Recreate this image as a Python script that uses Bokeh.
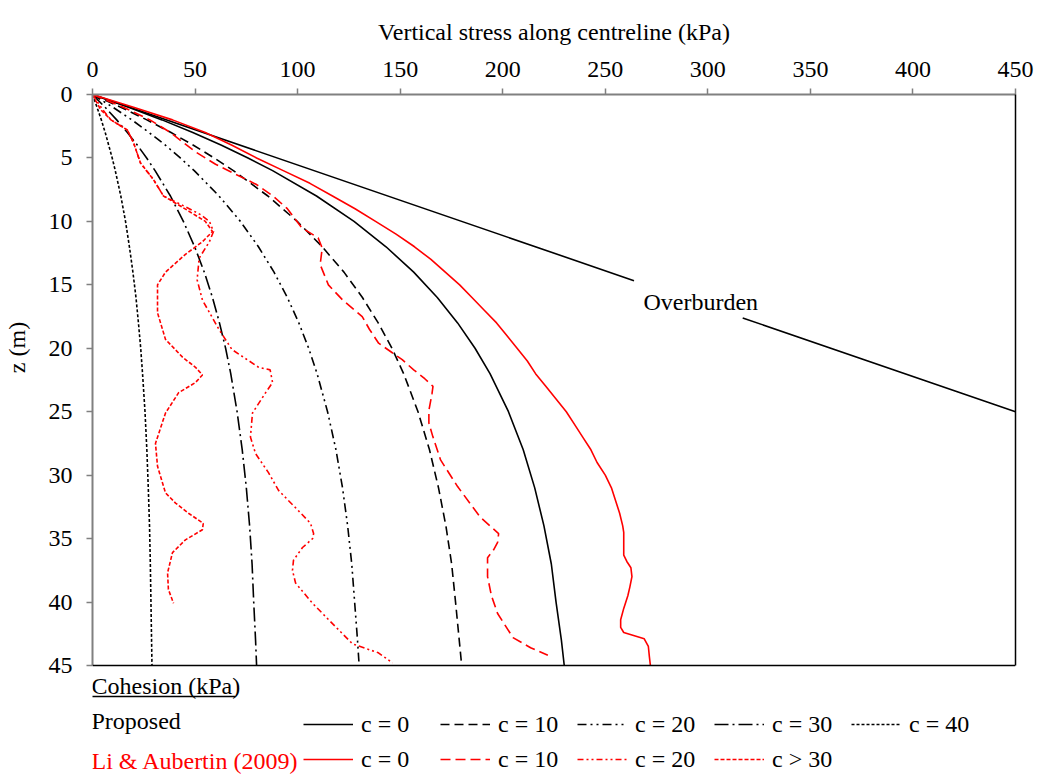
from bokeh.plotting import figure
from bokeh.models import Range1d, FixedTicker, LinearAxis, Label, Legend, LegendItem, Arrow, Span
from bokeh.embed import file_html
from bokeh.resources import INLINE

FONT = "Liberation Serif"

x_ticks = [0, 50, 100, 150, 200, 250, 300, 350, 400, 450]
z_ticks = [0, 5, 10, 15, 20, 25, 30, 35, 40, 45]
Z_MAX = 45

# Proposed solution (depth z in m, vertical stress in kPa)
prop_z = [0, 1, 2, 3, 4, 5, 6, 8, 10, 12, 14, 16, 18, 20, 22, 25, 28, 31, 34, 37, 40, 43, 45]
prop_c0 = [0, 17.6, 33.9, 48.9, 62.9, 75.8, 87.8, 109.2, 127.5, 143.1, 156.6, 168.1, 178.0,
           186.5, 193.8, 202.8, 210.0, 215.6, 220.1, 223.7, 226.0, 228.6, 230.0]
prop_c10 = [0, 13.8, 26.5, 38.3, 49.2, 59.3, 68.7, 85.5, 99.8, 112.0, 122.6, 131.6, 139.3,
            146.0, 151.7, 158.7, 164.3, 168.7, 172.3, 175.1, 177.0, 178.8, 180.0]
prop_c20 = [0, 9.9, 19.2, 27.6, 35.6, 42.8, 49.6, 61.7, 72.1, 80.9, 88.5, 95.0, 100.6,
            105.4, 109.5, 114.6, 118.7, 121.9, 124.4, 126.4, 127.8, 129.2, 130.0]
prop_c30 = [0, 6.1, 11.8, 17.0, 21.9, 26.4, 30.5, 38.0, 44.3, 49.8, 54.5, 58.5, 61.9,
            64.9, 67.4, 70.5, 73.0, 75.0, 76.6, 77.8, 78.6, 79.5, 80.0]
prop_c40 = [0, 2.2, 4.3, 6.2, 7.9, 9.6, 11.1, 13.8, 16.1, 18.0, 19.7, 21.2, 22.4,
            23.5, 24.4, 25.6, 26.5, 27.2, 27.8, 28.2, 28.5, 28.8, 29.0]

# Li & Aubertin (2009)
li_c0_z = [0, 1, 2, 3, 4, 5, 6, 7, 8, 9, 10, 11, 12, 13, 14, 15, 16, 17, 18, 19, 20, 21, 22, 23,
           24, 25, 26, 27, 28, 29, 30, 31, 32, 33, 34, 34.5, 35.5, 36.3, 36.8, 37.3, 38, 38.8,
           39.5, 40.5, 41.4, 42.0, 42.4, 42.6, 42.9, 43.5, 44.3, 45]
li_c0_s = [0, 20, 39, 55, 68, 80, 93, 106, 117, 128, 138, 148, 157, 165, 172, 179, 185, 191,
           197, 202, 207, 212, 216, 221, 226, 231, 235, 239, 243, 246, 250, 253, 255, 257, 258.5,
           259, 259, 259, 260.5, 262.5, 263, 262, 261, 259, 257.5, 257.5, 259, 263, 269, 271,
           271.5, 272]
li_c10_z = [0, 1, 2, 3, 4.5, 5.5, 6.3, 7.1, 8, 9, 10.5, 11.3, 12.1, 13.4, 15, 16.2, 17.5, 18.5,
            19.6, 20.9, 21.7, 22.4, 23, 23.6, 24.9, 25.9, 27, 28.8, 30.9, 33.3, 34.6, 35.3, 35.9,
            36.5, 38, 39.5, 40.9, 42.8, 43.6, 44.2]
li_c10_s = [0, 15, 28, 38, 50, 60, 70, 80, 88, 95, 102, 110, 112, 111, 115, 122, 131.5, 135,
            139.5, 151, 156.6, 162, 166, 165.5, 164, 164, 166, 169.7, 178, 189, 198, 197.5, 195.5,
            192.6, 192.6, 194.5, 197.5, 205, 213.6, 222]
li_c20_z = [0, 1.2, 2, 2.8, 3.8, 5.4, 6.7, 8, 8.9, 9.5, 10, 10.8, 11.6, 12.9, 14.6, 16.2, 18.5,
            20.1, 21.5, 21.7, 22.7, 23.5, 25.1, 27, 28.3, 29.8, 31.2, 32.8, 33.8, 34.6, 35, 35.7,
            36.7, 37.5, 38.5, 40.1, 41.7, 43.3, 44, 44.8]
li_c20_s = [0, 5, 9, 17, 20, 23.4, 29.7, 34.6, 46, 53, 57, 59, 57, 52, 51, 53.6, 61.6, 68, 81,
            86.6, 87.8, 84.4, 78, 77, 79.5, 85.8, 90.7, 100.4, 106.3, 107.8, 107.3, 102.4, 98,
            97.5, 99, 107.3, 117, 126.8, 139.4, 146.3]
li_c30_z = [0, 1.2, 2, 2.8, 3.8, 5.4, 6.7, 8, 8.9, 9.5, 10, 10.8, 11.6, 12.6, 14, 15, 17.2, 19.3,
            20.7, 21.5, 22.1, 22.7, 23.5, 25.1, 27.5, 29.3, 31.4, 32.2, 33, 33.8, 34.3, 35.1, 36.1,
            37.7, 39, 40.1]
li_c30_s = [0, 4, 9, 17, 20, 23.4, 29.7, 34.6, 44, 50, 55, 58.5, 53.6, 45.3, 35.6, 31.7, 31.7,
            35.6, 43.9, 50.2, 53.6, 50.2, 42, 35.6, 30.7, 31.7, 35.6, 40.5, 46.8, 54, 53.6, 45.3,
            39, 36.6, 37, 39.5]

# Overburden line (gap where the label sits)
ob_s = [0, 264, float("nan"), 317, 450]
ob_z = [0, 14.67, float("nan"), 17.61, 25]

prop_labels = ["c = 0", "c = 10", "c = 20", "c = 30", "c = 40"]
li_labels = ["c = 0", "c = 10", "c = 20", "c > 30"]

RED = "#ff0000"
LW = 1.6
prop_styles = [None, "9 5", "9 4 2 4 2 4", "14 4 2 4", "3 2"]
li_styles = [None, "10 5", "6 3 2 3 2 3", "4 2"]

# frame extends below z = 45 to hold the legend block (axis lines bounded to 0..45)
p = figure(width=1039, height=774, x_range=Range1d(0, 450), y_range=Range1d(53.59, 0),
           x_axis_location="above", y_axis_location="left",
           output_backend="svg", toolbar_location=None,
           min_border_left=92, min_border_right=24, min_border_top=94, min_border_bottom=0)
p.grid.visible = False
p.outline_line_color = None
p.background_fill_color = "white"
p.border_fill_color = "white"

for ax in [p.xaxis[0], p.yaxis[0]]:
    ax.axis_line_color = "#808080"
    ax.axis_line_width = 2
    ax.major_tick_line_color = "#808080"
    ax.major_tick_line_width = 1.5
    ax.minor_tick_line_color = None
    ax.major_tick_out = 6
    ax.major_tick_in = 0
    ax.major_label_text_font = FONT
    ax.major_label_text_font_size = "24px"
    ax.major_label_text_color = "black"
    ax.axis_label_text_font = FONT
    ax.axis_label_text_font_size = "24px"
    ax.axis_label_text_font_style = "normal"
    ax.axis_label_text_color = "black"

p.xaxis[0].ticker = FixedTicker(ticks=x_ticks)
p.yaxis[0].ticker = FixedTicker(ticks=z_ticks)
p.yaxis[0].bounds = (0, Z_MAX)
p.xaxis[0].axis_label = "Vertical stress along centreline (kPa)"
# leading no-break spaces move the centred label up next to the 0..45 axis
p.yaxis[0].axis_label = "\u00a0" * 29 + "z (m)"
p.xaxis[0].major_label_standoff = 12
p.xaxis[0].axis_label_standoff = 14
p.yaxis[0].major_label_standoff = 14
p.yaxis[0].axis_label_standoff = 16

rax = LinearAxis(ticker=FixedTicker(ticks=[]), axis_line_color="black", axis_line_width=1.5,
                 major_label_text_font_size="0px", major_tick_out=0, major_tick_in=0,
                 minor_tick_out=0, minor_tick_in=0, bounds=(0, Z_MAX))
p.add_layout(rax, "right")
p.add_layout(Span(location=Z_MAX, dimension="width", line_color="black", line_width=1.5))

p.line(ob_s, ob_z, line_color="black", line_width=LW)
prop_series = [prop_c0, prop_c10, prop_c20, prop_c30, prop_c40]
prop_r = []
for vals, dash in zip(prop_series, prop_styles):
    kw = {} if dash is None else {"line_dash": dash}
    prop_r.append(p.line(vals, prop_z, line_color="black", line_width=LW, **kw))
li_series = [(li_c0_s, li_c0_z), (li_c10_s, li_c10_z), (li_c20_s, li_c20_z), (li_c30_s, li_c30_z)]
li_r = []
for (vals, zs), dash in zip(li_series, li_styles):
    kw = {} if dash is None else {"line_dash": dash}
    li_r.append(p.line(vals, zs, line_color=RED, line_width=LW, **kw))

p.add_layout(Label(x=268.6, y=16.34, text="Overburden", text_font=FONT, text_font_size="24px",
                   text_baseline="middle", text_align="left", text_color="black"))

# legend block below the curves
p.add_layout(Label(x=-0.5, y=46.58, text="Cohesion (kPa)", text_font=FONT, text_font_size="24px",
                   text_baseline="middle", text_align="left", text_color="black"))
p.add_layout(Arrow(x_start=-0.5, y_start=47.44, x_end=69.7, y_end=47.44, start=None, end=None,
                   line_color="black", line_width=1.5))
p.add_layout(Label(x=-0.5, y=49.41, text="Proposed", text_font=FONT, text_font_size="24px",
                   text_baseline="middle", text_align="left", text_color="black"))
p.add_layout(Label(x=-0.5, y=52.49, text="Li & Aubertin (2009)", text_font=FONT,
                   text_font_size="24px", text_baseline="middle", text_align="left",
                   text_color=RED))

common = dict(orientation="horizontal", glyph_width=50, glyph_height=30, label_height=30,
              label_width=79, label_standoff=8, spacing=0, padding=0, margin=0,
              border_line_color=None, background_fill_alpha=0, label_text_font=FONT,
              label_text_font_size="24px", label_text_color="black")
leg1 = Legend(items=[LegendItem(label=l, renderers=[r]) for l, r in zip(prop_labels, prop_r)],
              location=(211, 35), **common)
leg2 = Legend(items=[LegendItem(label=l, renderers=[r]) for l, r in zip(li_labels, li_r)],
              location=(211, 0), **common)
p.add_layout(leg1)
p.add_layout(leg2)

open("out.html", "w").write(file_html(p, INLINE))
